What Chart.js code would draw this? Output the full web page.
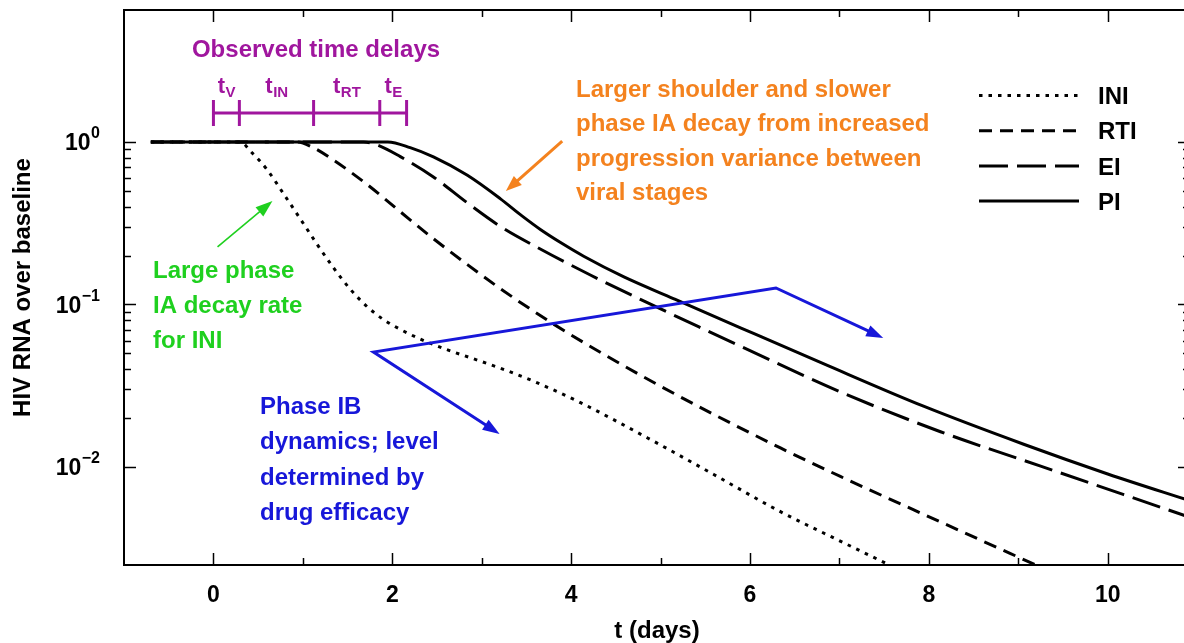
<!DOCTYPE html>
<html>
<head>
<meta charset="utf-8">
<script src="https://cdn.jsdelivr.net/npm/chart.js@4/dist/chart.umd.min.js"></script>
<style>
  html, body { margin: 0; padding: 0; background: #fff; overflow: hidden; }
  #wrap { width: 1200px; height: 643px; }
</style>
</head>
<body>
<div id="wrap"><canvas id="c" width="1200" height="643"></canvas></div>
<script>
// HIV RNA relative to baseline after starting each drug class (log scale)
const seriesNames = ['INI', 'RTI', 'EI', 'PI'];

const iniT = [-0.7, 0.3, 0.42, 0.6, 0.78, 0.97, 1.16, 1.34, 1.53, 1.72, 1.9, 2.09, 2.3, 2.6, 2.9, 3.21, 3.58, 4.11, 4.85, 5.59, 6.34, 6.95, 7.6];
const iniV = [1, 1, 0.871, 0.676, 0.484, 0.3373, 0.2344, 0.169, 0.1242, 0.0968, 0.0809, 0.0703, 0.0617, 0.053, 0.0465, 0.0405, 0.0337, 0.0248, 0.01514, 0.00902, 0.00531, 0.00363, 0.00243];

const rtiT = [-0.7, 0.94, 1.1, 1.34, 1.72, 2.09, 2.46, 2.84, 3.21, 3.8, 4.4, 5.0, 5.6, 6.34, 7.01, 8.13, 9.3];
const rtiV = [1, 1, 0.933, 0.776, 0.547, 0.372, 0.254, 0.176, 0.125, 0.0759, 0.0481, 0.0314, 0.021, 0.0131, 0.00875, 0.00459, 0.00235];

const eiT = [-0.7, 1.68, 1.85, 2.09, 2.46, 2.84, 3.21, 3.66, 4.22, 4.78, 5.53, 5.9, 7.01, 8.13, 9.25, 10.18, 10.93];
const eiV = [1, 1, 0.9506, 0.8128, 0.6095, 0.4217, 0.302, 0.2188, 0.1514, 0.1072, 0.0686, 0.0552, 0.029, 0.01648, 0.01012, 0.00676, 0.00488];

const piT = [-0.7, 1.95, 2.2, 2.46, 2.84, 3.21, 3.45, 3.66, 3.9, 4.14, 4.59, 5.15, 5.9, 6.82, 7.94, 9.06, 10.0, 10.93];
const piV = [1, 1, 0.9226, 0.8091, 0.6237, 0.4467, 0.3508, 0.2884, 0.2371, 0.1982, 0.1479, 0.1084, 0.0716, 0.0432, 0.02366, 0.0138, 0.00906, 0.00617];

// Axis ticks
const xTickLabelValues = [0, 2, 4, 6, 8, 10];
const yDecadeExponents = [0, -1, -2];

// Observed delays between drug-class responses (days)
const delayEdges = [0, 0.29, 1.12, 1.86, 2.16];
const delayNames = [['t', 'V'], ['t', 'IN'], ['t', 'RT'], ['t', 'E']];

const FONT = "'Liberation Sans', Arial, Helvetica, sans-serif";
Chart.defaults.font.family = FONT;
Chart.defaults.color = '#000';

const toPoints = (ts, vs) => ts.map((t, i) => ({ x: t, y: vs[i] }));

const lineStyles = [
  { dash: [3.5, 6] },
  { dash: [13, 8] },
  { dash: [29, 9] },
  { dash: [] }
];
const seriesData = [toPoints(iniT, iniV), toPoints(rtiT, rtiV), toPoints(eiT, eiV), toPoints(piT, piV)];

const datasets = seriesNames.map((name, i) => ({
  label: name,
  data: seriesData[i],
  borderColor: '#000',
  borderWidth: 3,
  borderDash: lineStyles[i].dash,
  borderCapStyle: 'butt',
  pointRadius: 0,
  fill: false,
  cubicInterpolationMode: 'monotone'
}));

// Annotation colours and texts
const PURPLE = '#a0169e', ORANGE = '#f4821e', GREEN = '#1fd01f', BLUE = '#1717d9';
const orangeLines = ['Larger shoulder and slower', 'phase IA decay from increased', 'progression variance between', 'viral stages'];
const greenLines = ['Large phase', 'IA decay rate', 'for INI'];
const blueLines = ['Phase IB', 'dynamics; level', 'determined by', 'drug efficacy'];

// Arrow anchors in data coordinates (t, relative RNA)
const greenArrow = [[0.046, 0.226], [0.66, 0.434]];
const orangeArrow = [[3.90, 1.014], [3.27, 0.499]];
const bluePath = [[3.20, 0.01596], [1.79, 0.0510], [6.29, 0.1264], [7.49, 0.0622]];

function arrowHead(ctx, x0, y0, x1, y1, len, half) {
  const a = Math.atan2(y1 - y0, x1 - x0);
  const c = Math.cos(a), s = Math.sin(a);
  ctx.beginPath();
  ctx.moveTo(x1, y1);
  ctx.lineTo(x1 - len * c + half * s, y1 - len * s - half * c);
  ctx.lineTo(x1 - len * c - half * s, y1 - len * s + half * c);
  ctx.closePath();
  ctx.fill();
}

function drawArrowPath(ctx, pts, color, width, len, half, startHead, endHead) {
  ctx.save();
  ctx.strokeStyle = color;
  ctx.fillStyle = color;
  ctx.lineWidth = width;
  ctx.lineJoin = 'miter';
  ctx.setLineDash([]);
  const p = pts.map(q => q.slice());
  const shorten = (a, b) => {
    const d = Math.hypot(b[0] - a[0], b[1] - a[1]);
    const k = (len * 0.7) / d;
    return [b[0] - (b[0] - a[0]) * k, b[1] - (b[1] - a[1]) * k];
  };
  const n = p.length;
  const drawn = p.map(q => q.slice());
  if (endHead) drawn[n - 1] = shorten(p[n - 2], p[n - 1]);
  if (startHead) drawn[0] = shorten(p[1], p[0]);
  ctx.beginPath();
  ctx.moveTo(drawn[0][0], drawn[0][1]);
  for (let i = 1; i < n; i++) ctx.lineTo(drawn[i][0], drawn[i][1]);
  ctx.stroke();
  if (endHead) arrowHead(ctx, p[n - 2][0], p[n - 2][1], p[n - 1][0], p[n - 1][1], len, half);
  if (startHead) arrowHead(ctx, p[1][0], p[1][1], p[0][0], p[0][1], len, half);
  ctx.restore();
}

function drawTextBlock(ctx, lines, x, firstBaseline, step, color) {
  ctx.save();
  ctx.fillStyle = color;
  ctx.font = 'bold 24px ' + FONT;
  ctx.textAlign = 'left';
  ctx.textBaseline = 'alphabetic';
  lines.forEach((s, i) => ctx.fillText(s, x, firstBaseline + i * step));
  ctx.restore();
}

const decorPlugin = {
  id: 'decor',
  afterDraw(chart) {
    const { ctx, chartArea: a, scales } = chart;
    const xs = scales.x, ys = scales.y;
    const seg = (x0, y0, x1, y1) => { ctx.beginPath(); ctx.moveTo(x0, y0); ctx.lineTo(x1, y1); ctx.stroke(); };
    ctx.save();

    // Frame
    ctx.strokeStyle = '#000';
    ctx.lineWidth = 2;
    ctx.setLineDash([]);
    ctx.strokeRect(a.left, a.top, a.right - a.left, a.bottom - a.top);

    // Inward x ticks (top and bottom)
    ctx.lineWidth = 1.5;
    for (let t = 0; t <= 10; t++) {
      const px = Math.round(xs.getPixelForValue(t)) + 0.5;
      const len = t % 2 === 0 ? 12 : 7;
      seg(px, a.bottom, px, a.bottom - len);
      seg(px, a.top, px, a.top + len);
    }

    // Inward y ticks (left and right), decades plus 2..9 minors
    yDecadeExponents.forEach(e => {
      const py = Math.round(ys.getPixelForValue(Math.pow(10, e))) + 0.5;
      seg(a.left, py, a.left + 12, py);
      seg(a.right, py, a.right - 12, py);
      if (e < 0) {
        for (let m = 2; m <= 9; m++) {
          const my = Math.round(ys.getPixelForValue(m * Math.pow(10, e))) + 0.5;
          seg(a.left, my, a.left + 7, my);
          seg(a.right, my, a.right - 7, my);
        }
      }
    });

    // Decade labels with superscript exponents
    ctx.fillStyle = '#000';
    ctx.textBaseline = 'alphabetic';
    ctx.textAlign = 'right';
    yDecadeExponents.forEach(e => {
      const py = ys.getPixelForValue(Math.pow(10, e));
      const expText = e < 0 ? '\u2212' + Math.abs(e) : String(e);
      ctx.font = 'bold 16px ' + FONT;
      const ew = ctx.measureText(expText).width;
      const rightEdge = a.left - 24;
      ctx.fillText(expText, rightEdge, py - 3.5);
      ctx.font = 'bold 23px ' + FONT;
      ctx.fillText('10', rightEdge - ew - 0.5, py + 8.2);
    });

    // Delay bracket
    ctx.strokeStyle = PURPLE;
    ctx.fillStyle = PURPLE;
    ctx.lineWidth = 3;
    const bx = delayEdges.map(t => xs.getPixelForValue(t));
    seg(bx[0], 113, bx[bx.length - 1], 113);
    bx.forEach(px => seg(px, 100, px, 126));
    ctx.font = 'bold 24px ' + FONT;
    ctx.textAlign = 'center';
    ctx.fillText('Observed time delays', (bx[0] + bx[bx.length - 1]) / 2 + 6, 57);
    ctx.textAlign = 'left';
    delayNames.forEach((nm, i) => {
      ctx.font = 'bold 22px ' + FONT;
      const tw = ctx.measureText(nm[0]).width;
      ctx.font = 'bold 15px ' + FONT;
      const sw = ctx.measureText(nm[1]).width;
      const mid = (bx[i] + bx[i + 1]) / 2;
      const x0 = mid - (tw + sw) / 2;
      ctx.font = 'bold 22px ' + FONT;
      ctx.fillText(nm[0], x0, 93);
      ctx.font = 'bold 15px ' + FONT;
      ctx.fillText(nm[1], x0 + tw + 0.5, 97);
    });

    // Notes and arrows
    const px = p => [xs.getPixelForValue(p[0]), ys.getPixelForValue(p[1])];
    drawTextBlock(ctx, orangeLines, 576, 97, 34.4, ORANGE);
    drawArrowPath(ctx, orangeArrow.map(px), ORANGE, 3, 16, 6, false, true);
    drawTextBlock(ctx, greenLines, 153, 278, 35, GREEN);
    drawArrowPath(ctx, greenArrow.map(px), GREEN, 1.6, 17, 6, false, true);
    drawTextBlock(ctx, blueLines, 260, 414, 35.3, BLUE);
    drawArrowPath(ctx, bluePath.map(px), BLUE, 3, 17, 6, true, true);

    // Legend
    chart.data.datasets.forEach((ds, i) => {
      const ry = 95.5 + i * 35.2;
      ctx.strokeStyle = ds.borderColor;
      ctx.lineWidth = ds.borderWidth;
      ctx.lineCap = 'butt';
      ctx.setLineDash(ds.borderDash || []);
      seg(979, ry, 1079, ry);
      ctx.setLineDash([]);
      ctx.fillStyle = '#000';
      ctx.font = 'bold 24px ' + FONT;
      ctx.textAlign = 'left';
      ctx.fillText(ds.label, 1098, ry + 8.6);
    });

    ctx.restore();
  }
};

new Chart(document.getElementById('c'), {
  type: 'line',
  data: { datasets },
  options: {
    responsive: false,
    animation: false,
    events: [],
    layout: { padding: { left: 0, right: 10, top: 10, bottom: 0 } },
    plugins: { legend: { display: false }, tooltip: { enabled: false } },
    scales: {
      x: {
        type: 'linear',
        min: -1,
        max: 10.92,
        grid: { display: false, drawTicks: false },
        border: { display: true, color: '#000', width: 2 },
        ticks: {
          stepSize: 1,
          includeBounds: false,
          autoSkip: false,
          maxRotation: 0,
          padding: 17,
          color: '#000',
          font: { size: 23, weight: 'bold', lineHeight: 1.2 },
          callback: v => (xTickLabelValues.includes(v) ? String(v) : '')
        },
        title: {
          display: true,
          text: 't (days)',
          color: '#000',
          font: { size: 24, weight: 'bold', lineHeight: 1 },
          padding: { top: 0, bottom: 0 }
        },
        afterFit(scale) { scale.height = 78; }
      },
      y: {
        type: 'logarithmic',
        min: 0.002494,
        max: 6.49,
        grid: { display: false, drawTicks: false },
        border: { display: true, color: '#000', width: 2 },
        ticks: { display: false },
        title: {
          display: true,
          text: 'HIV RNA over baseline',
          color: '#000',
          font: { size: 24, weight: 'bold', lineHeight: 1.2 },
          padding: { top: 9, bottom: 0 }
        },
        afterFit(scale) { scale.width = 124; }
      }
    }
  },
  plugins: [decorPlugin]
});
</script>
</body>
</html>
